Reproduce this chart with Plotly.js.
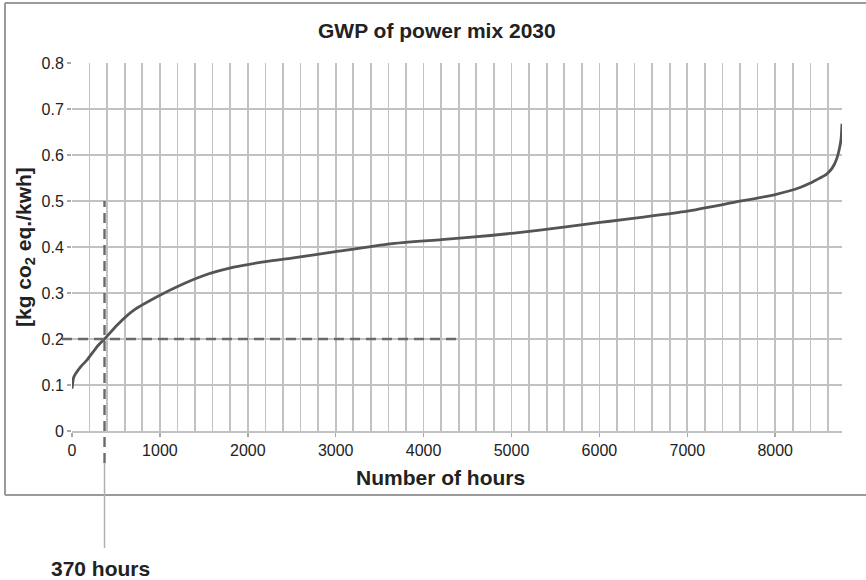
<!DOCTYPE html>
<html>
<head>
<meta charset="utf-8">
<script src="https://cdn.plot.ly/plotly-3.0.1.min.js"></script>
<style>
  html, body { margin: 0; padding: 0; background: #fff; overflow: hidden; }
  #chart { width: 866px; height: 580px; }
</style>
</head>
<body>
<div id="chart"></div>
<script>
// ---- Data ----
const hours = [0, 20, 100, 170, 284, 370, 512, 700, 1000, 1270, 1500, 1840, 2220, 2500, 3000, 3620, 4200, 4760, 5300, 5900, 6120, 6500, 7000, 7530, 8000, 8290, 8400, 8480, 8550, 8600, 8650, 8700, 8735, 8750, 8760];
const gwp   = [0.092, 0.117, 0.140, 0.154, 0.183, 0.200, 0.230, 0.262, 0.295, 0.320, 0.338, 0.356, 0.369, 0.376, 0.390, 0.407, 0.416, 0.425, 0.436, 0.451, 0.456, 0.465, 0.478, 0.497, 0.514, 0.530, 0.539, 0.547, 0.554, 0.561, 0.572, 0.592, 0.618, 0.636, 0.668];

const markerHour = [370];      // highlighted hour count
const markerValue = [0.2];     // threshold value
const markerTop = [0.5];       // top of the vertical guide
const hLineEnd = [4400];       // end of horizontal guide (hours)
const xTickVals = [0, 1000, 2000, 3000, 4000, 5000, 6000, 7000, 8000];
const yTickVals = [0, 0.1, 0.2, 0.3, 0.4, 0.5, 0.6, 0.7, 0.8];
const yTickText = ['0', '0.1', '0.2', '0.3', '0.4', '0.5', '0.6', '0.7', '0.8'];

const titleText = 'GWP of power mix 2030';
const xTitleText = 'Number of hours';
const yTitleText = '[kg co<sub>2</sub> eq./kwh]';
const markerLabel = '370 hours';

// ---- Layout geometry ----
const W = 866, H = 580;
const M = { l: 72, r: 24, t: 63, b: 149 };
const PW = W - M.l - M.r, PH = H - M.t - M.b;
const px2x = px => (px - M.l) / PW;
const px2y = py => (H - M.b - py) / PH;
const yMax = 0.8, xMax = 8760;

const font = 'Liberation Sans, Arial, Helvetica, sans-serif';
const gridCol = '#c2c2c2';
const frameCol = '#9a9a9a';

const trace = {
  x: hours, y: gwp, type: 'scatter', mode: 'lines',
  line: { color: '#545454', width: 2.8, shape: 'spline', smoothing: 0.5 },
  hoverinfo: 'x+y'
};

const frameLine = (x0, y0, x1, y1) => ({
  type: 'line', xref: 'paper', yref: 'paper',
  x0: px2x(x0), x1: px2x(x1), y0: px2y(y0), y1: px2y(y1),
  line: { color: frameCol, width: 2 }, layer: 'below'
});

const layout = {
  width: W, height: H,
  margin: M,
  paper_bgcolor: '#ffffff', plot_bgcolor: '#ffffff',
  showlegend: false,
  font: { family: font, color: '#222' },
  xaxis: {
    range: [0, xMax], tickmode: 'array', tickvals: xTickVals,
    ticks: 'outside', ticklen: 4, tickcolor: '#aaa', tickwidth: 1.5,
    showgrid: true, gridcolor: gridCol, gridwidth: 1.7,
    zeroline: false, showline: true, linecolor: gridCol, linewidth: 1.7,
    tickfont: { size: 16, color: '#222', family: font },
    minor: { dtick: 200, tick0: 0, showgrid: true, gridcolor: gridCol, gridwidth: 1.7, ticks: '' },
    fixedrange: true
  },
  yaxis: {
    range: [0, yMax], tickmode: 'array', tickvals: yTickVals, ticktext: yTickText,
    ticks: 'outside', ticklen: 4, tickcolor: '#aaa', tickwidth: 1.5,
    showgrid: true, gridcolor: gridCol, gridwidth: 1.7,
    zeroline: false, showline: false,
    tickfont: { size: 16, color: '#222', family: font },
    fixedrange: true
  },
  shapes: [
    // outer frame (top, left, bottom; right edge lies outside the picture)
    frameLine(5, 3, W + 10, 3),
    frameLine(5, 3, 5, 495),
    frameLine(5, 495, W + 10, 495),
    // horizontal dashed guide
    { type: 'line', xref: 'paper', yref: 'y',
      x0: px2x(62), x1: hLineEnd[0] / xMax, y0: markerValue[0], y1: markerValue[0],
      line: { color: '#6a6a6a', width: 2.4, dash: '10px,6px' } },
    // vertical dashed guide
    { type: 'line', xref: 'x', yref: 'paper',
      x0: markerHour[0], x1: markerHour[0], y0: px2y(463), y1: markerTop[0] / yMax,
      line: { color: '#6a6a6a', width: 2.4, dash: '10px,6px' } },
    // thin leader line to label
    { type: 'line', xref: 'x', yref: 'paper',
      x0: markerHour[0], x1: markerHour[0], y0: px2y(548), y1: px2y(463),
      line: { color: '#b0b0b0', width: 1.5 } }
  ],
  annotations: [
    { text: '<b>' + titleText + '</b>', xref: 'paper', yref: 'paper',
      x: px2x(437), y: px2y(30), xanchor: 'center', yanchor: 'middle',
      showarrow: false, font: { size: 21, family: font, color: '#222' } },
    { text: '<b>' + xTitleText + '</b>', xref: 'paper', yref: 'paper',
      x: px2x(440), y: px2y(477), xanchor: 'center', yanchor: 'middle',
      showarrow: false, font: { size: 21, family: font, color: '#222' } },
    { text: '<b>' + yTitleText + '</b>', xref: 'paper', yref: 'paper',
      x: px2x(25), y: px2y(247), xanchor: 'center', yanchor: 'middle', textangle: -90,
      showarrow: false, font: { size: 21, family: font, color: '#222' } },
    { text: '<b>' + markerLabel + '</b>', xref: 'x', yref: 'paper',
      x: markerHour[0], xshift: -4, y: px2y(568), xanchor: 'center', yanchor: 'middle',
      showarrow: false, font: { size: 21, family: font, color: '#222' } }
  ]
};

Plotly.newPlot('chart', [trace], layout, { displayModeBar: false, staticPlot: true });
</script>
</body>
</html>
